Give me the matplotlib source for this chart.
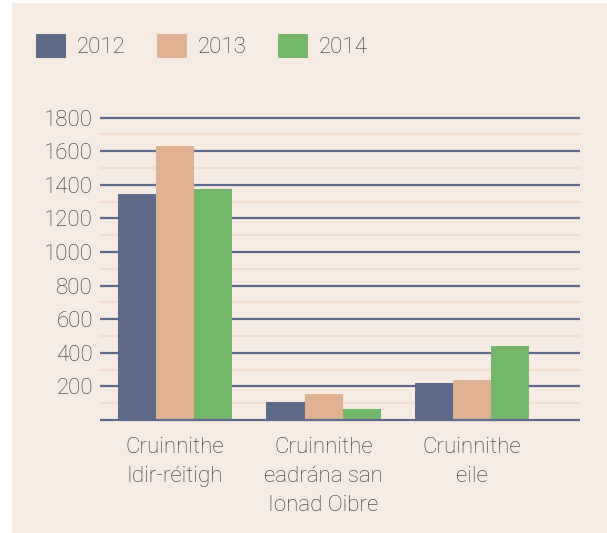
import numpy as np
import matplotlib.pyplot as plt
from matplotlib.patches import Rectangle

categories = ["Cruinnithe\nIdir-réitigh", "Cruinnithe\neadrána san\nIonad Oibre", "Cruinnithe\neile"]
years = ["2012", "2013", "2014"]
values_2012 = [1346, 108, 222]
values_2013 = [1634, 156, 240]
values_2014 = [1376, 66, 438]
yticks = [200, 400, 600, 800, 1000, 1200, 1400, 1600, 1800]

bg = "#f6ebe3"
colors = ["#5d6a8c", "#e1b291", "#72b76a"]
grid_major = "#5f6b8d"
grid_minor = "#f1dccd"
txt = "#2e2e2e"

plt.rcParams['font.family'] = ['Roboto', 'DejaVu Sans']
plt.rcParams['font.weight'] = 'light'

fig = plt.figure(figsize=(6.07, 5.33), dpi=100, facecolor="white")
fig.patches.append(Rectangle((12 / 607, 0), 1, 1 - 3 / 533, transform=fig.transFigure,
                             facecolor=bg, edgecolor="none", zorder=-10))

ax = fig.add_axes([100 / 607, 1 - 423.4 / 533, 480 / 607, (423.4 - 114.3) / 533])
ax.set_facecolor("none")
for s in ax.spines.values():
    s.set_visible(False)

x = np.arange(len(categories))
w = 0.256
series = [values_2012, values_2013, values_2014]
handles = []
for i, vals in enumerate(series):
    b = ax.bar(x + (i - 1) * w, vals, w, color=colors[i], label=years[i], zorder=3)
    handles.append(b)

for v in range(100, 1800, 200):
    ax.axhline(v, color=grid_minor, lw=1.6, zorder=1)
for v in yticks:
    ax.axhline(v, color=grid_major, lw=1.6, zorder=2)
ax.axhline(0, color=grid_major, lw=1.6, zorder=4)

ax.set_xlim(-0.505, 2.727)
ax.set_ylim(-20, 1820)
ax.set_yticks(yticks)
ax.set_yticklabels([str(t) for t in yticks], fontsize=16, color=txt)
ax.tick_params(axis="y", length=0, pad=5)
ax.set_xticks(x)
ax.set_xticklabels(categories, fontsize=16, color=txt, linespacing=1.5, va="top")
ax.tick_params(axis="x", length=0, pad=10)

fig.legend(handles=handles, labels=years, loc="center left", bbox_to_anchor=(36 / 607, 1 - 46 / 533),
           ncol=3, frameon=False, fontsize=16, handlelength=1.35, handleheight=1.35,
           handletextpad=0.5, columnspacing=1.4, borderaxespad=0, borderpad=0,
           labelcolor=txt)

fig.savefig("out.png", dpi=100, facecolor="white")
